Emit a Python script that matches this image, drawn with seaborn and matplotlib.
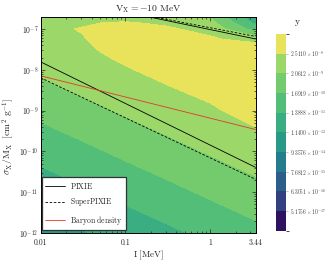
import numpy as np
import seaborn as sns
import matplotlib
matplotlib.use("Agg")
import matplotlib.pyplot as plt
from matplotlib.colors import ListedColormap, BoundaryNorm
from matplotlib.ticker import LogLocator, NullFormatter, FixedLocator, FixedFormatter

# grid of the y field (log10 units)
log_I = [-2.0, -1.5, -1.0, -0.5, 0.0, 0.5366]
log_sigma = [-12, -11, -10, -9.5, -9, -8.5, -8, -7.75, -7.5, -7.25, -7, -6.85, -6.7]
# log10(y) at each node, rows follow log_sigma, columns follow log_I
log_y = [
    [-12.49, -12.02, -11.54, -11.07, -10.59, -10.08],
    [-11.49, -11.02, -10.54, -10.07, -9.59, -9.08],
    [-10.49, -10.02, -9.54, -9.07, -8.59, -8.08],
    [-9.99, -9.52, -9.04, -8.57, -8.10, -7.70],
    [-9.49, -9.02, -8.54, -8.07, -7.75, -7.20],
    [-8.99, -8.52, -8.10, -7.70, -7.35, -6.90],
    [-8.49, -8.02, -7.68, -7.30, -7.00, -6.70],
    [-8.24, -7.85, -7.50, -7.10, -6.90, -6.65],
    [-7.99, -7.72, -7.35, -6.95, -6.95, -6.80],
    [-7.78, -7.63, -7.25, -6.98, -7.45, -8.00],
    [-7.72, -7.57, -7.30, -7.48, -7.90, -10.20],
    [-7.80, -7.66, -7.52, -7.75, -8.30, -11.10],
    [-7.90, -7.85, -7.95, -8.15, -8.80, -11.60],
]

# colour bar boundaries
cbar_ticks = [5.1756e-17, 6.3051e-16, 7.6812e-15, 9.3576e-14, 1.1400e-12,
              1.3888e-11, 1.6919e-10, 2.0612e-9, 2.5110e-8]
y_lo, y_hi = 4.2484e-18, 3.0590e-7

# constraint lines: I [MeV] and sigma/M [cm^2/g]
pixie_lo_I, pixie_lo_s = [0.01, 3.44], [1.57e-8, 4.07e-11]
pixie_hi_I, pixie_hi_s = [0.185, 3.44], [2.0e-7, 5.7e-8]
super_lo_I, super_lo_s = [0.01, 3.44], [6.4e-9, 2.07e-11]
super_hi_I, super_hi_s = [0.212, 3.44], [2.0e-7, 6.56e-8]
baryon_I, baryon_s = [0.01, 3.44], [7.14e-9, 3.44e-10]

bin_colors = ["#2e1260", "#323f80", "#2b5f8a", "#257c8c", "#2a9a88",
              "#3aae82", "#52be78", "#73cb6e", "#9cd769", "#e8e35a"]

sns.set_style("ticks")
plt.rcParams["font.family"] = ["cmr10"]
plt.rcParams["mathtext.fontset"] = "cm"
plt.rcParams["axes.formatter.use_mathtext"] = True
plt.rcParams["axes.unicode_minus"] = False

fig = plt.figure(figsize=(3.33, 2.62), dpi=100)
pos = [40.5 / 333, (262 - 233) / 262, 215 / 333, (233 - 16.7) / 262]

# filled contours drawn on a background axes in log10 units
ax_bg = fig.add_axes(pos)
levels = np.log10([y_lo] + cbar_ticks + [y_hi])
cmap = ListedColormap(bin_colors)
norm = BoundaryNorm(levels, cmap.N)
cs = ax_bg.contourf(log_I, log_sigma, np.array(log_y), levels=levels, cmap=cmap, norm=norm)
ax_bg.set_xlim(-2, np.log10(3.44))
ax_bg.set_ylim(-12, np.log10(2e-7))
ax_bg.set_xticks([])
ax_bg.set_yticks([])
ax_bg.axis("off")

# log axes on top for the lines and ticks
ax = fig.add_axes(pos, facecolor="none")
ax.set_xscale("log")
ax.set_yscale("log")

lw = 0.6
dash = (0, (3, 2))
sns.lineplot(x=pixie_lo_I, y=pixie_lo_s, ax=ax, color="black", lw=lw, label="PIXIE")
sns.lineplot(x=pixie_hi_I, y=pixie_hi_s, ax=ax, color="black", lw=lw)
sns.lineplot(x=super_lo_I, y=super_lo_s, ax=ax, color="black", lw=lw, ls=dash, label="SuperPIXIE")
sns.lineplot(x=super_hi_I, y=super_hi_s, ax=ax, color="black", lw=lw, ls=dash)
sns.lineplot(x=baryon_I, y=baryon_s, ax=ax, color="#e0392b", lw=lw, label="Baryon density")

ax.set_xlim(0.01, 3.44)
ax.set_ylim(1e-12, 2e-7)
ax.xaxis.set_major_locator(FixedLocator([0.01, 0.1, 1, 3.44]))
ax.xaxis.set_major_formatter(FixedFormatter(["0.01", "0.1", "1", "3.44"]))
ax.xaxis.set_minor_locator(LogLocator(subs=np.arange(2, 10)))
ax.xaxis.set_minor_formatter(NullFormatter())
ax.yaxis.set_major_locator(LogLocator(numticks=12))
ax.yaxis.set_minor_locator(LogLocator(subs=np.arange(2, 10), numticks=12))
ax.yaxis.set_minor_formatter(NullFormatter())
ax.tick_params(which="both", direction="in", top=True, right=True, labelsize=5.5,
               width=0.5)
ax.tick_params(axis="x", pad=4)
ax.tick_params(axis="y", pad=1.5)
ax.tick_params(which="major", length=3)
ax.tick_params(which="minor", length=1.5)
for s in ax.spines.values():
    s.set_linewidth(0.7)
    s.set_color("black")

ax.set_title(r"$\mathrm{V_X = -10\ MeV}$", fontsize=7, pad=4)
ax.set_xlabel(r"$\mathrm{I\ [MeV]}$", fontsize=6.5, labelpad=1)
ax.set_ylabel(r"$\sigma_\mathrm{X}/\mathrm{M_X}\ \ [\mathrm{cm}^2\ \mathrm{g}^{-1}]$", fontsize=7)
ax.yaxis.set_label_coords(-0.112, 0.445)

leg = ax.legend(loc="lower left", bbox_to_anchor=(0.006, 0.014), borderaxespad=0,
                fontsize=5.5, frameon=True, fancybox=False, framealpha=1,
                handlelength=2.6, handletextpad=0.7, labelspacing=0.7,
                borderpad=0.45, edgecolor="#333333")
leg.get_frame().set_linewidth(0.9)
for t in leg.get_texts():
    t.set_text(r"$\mathrm{" + t.get_text().replace(" ", r"\ ") + "}$")

# colour bar
cax = fig.add_axes([275.7 / 333, (262 - 230.7) / 262, 10 / 333, (230.7 - 34) / 262])
cb = fig.colorbar(cs, cax=cax)
cb.outline.set_visible(False)
cb.set_ticks(np.log10(cbar_ticks))
labels = []
for v in cbar_ticks:
    m, e = f"{v:.4e}".split("e")
    labels.append(r"$%s\times10^{%d}$" % (m, int(e)))
cb.set_ticklabels(labels)
cax.tick_params(labelsize=4.0, length=1.5, width=0.4, pad=1.5, color="#888888", labelcolor="#444444")
fig.text(297 / 333, 1 - 22 / 262, "y", fontsize=7, ha="center", va="center")

fig.savefig("out.png", dpi=100)
